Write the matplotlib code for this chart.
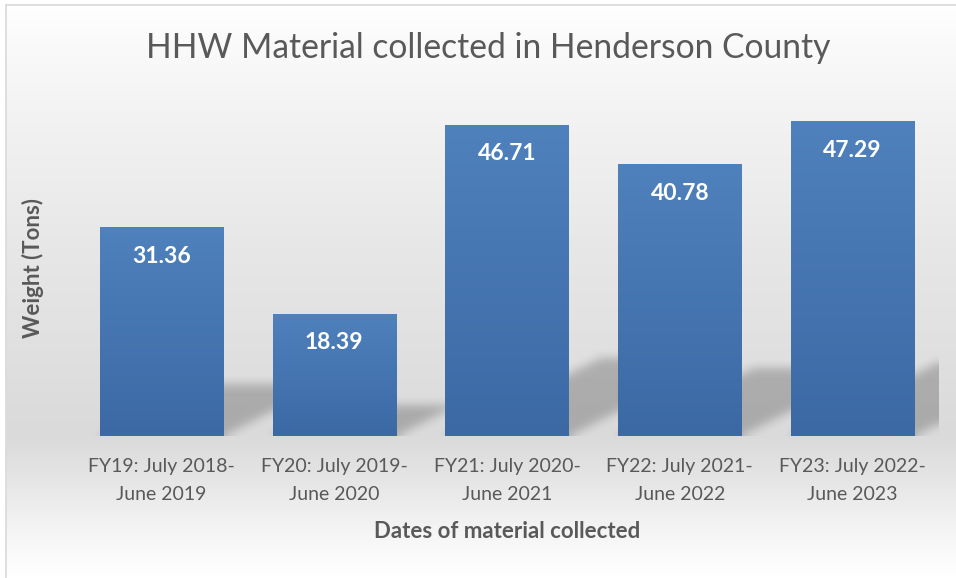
import matplotlib
matplotlib.use("Agg")
import matplotlib.pyplot as plt
from matplotlib.colors import LinearSegmentedColormap
from matplotlib.lines import Line2D
import numpy as np

# DATA ---------------------------------------------------------
categories = [
    "FY19: July 2018-\nJune 2019",
    "FY20: July 2019-\nJune 2020",
    "FY21: July 2020-\nJune 2021",
    "FY22: July 2021-\nJune 2022",
    "FY23: July 2022-\nJune 2023",
]
weights = [31.36, 18.39, 46.71, 40.78, 47.29]

title = "HHW Material collected in Henderson County"
xlabel = "Dates of material collected"
ylabel = "Weight (Tons)"

FONT = "Lato"
TXT = "#595959"

# FIGURE ---------------------------------------------------------
W, H = 956, 578
fig = plt.figure(figsize=(W / 100, H / 100), dpi=100)

# chart background gradient (white -> light grey -> white)
bg = fig.add_axes([0, 0, 1, 1], zorder=0)
stops = [(0.0, "#ffffff"), (0.17, "#f4f4f4"), (0.43, "#e7e7e7"),
         (0.755, "#dadada"), (0.83, "#e5e5e5"), (0.93, "#f6f6f6"), (1.0, "#ffffff")]
bg_cmap = LinearSegmentedColormap.from_list("bg", stops)
bg.imshow(np.linspace(0, 1, 400).reshape(-1, 1), cmap=bg_cmap, aspect="auto",
          extent=(0, 1, 0, 1), origin="upper")
bg.set_xlim(0, 1)
bg.set_ylim(0, 1)
bg.axis("off")
# outside border strip is white
bg.axvspan(0, 5 / W, color="white", zorder=2)
bg.axhspan(1 - 4 / H, 1, color="white", zorder=2)
fig.add_artist(Line2D([5.5 / W, 5.5 / W], [0, 1 - 4.5 / H], color="#d9d9d9", lw=1.2, zorder=3))
fig.add_artist(Line2D([5.5 / W, 1], [1 - 4.5 / H, 1 - 4.5 / H], color="#d9d9d9", lw=1.2, zorder=3))

# plot area
ax_l, ax_r, ax_t, ax_b = 75, 939, 103, 436
ax = fig.add_axes([ax_l / W, 1 - ax_b / H, (ax_r - ax_l) / W, (ax_b - ax_t) / H], zorder=1)
ax.set_facecolor("none")
ymax = 50
x = np.arange(len(weights))
bar_w = 0.712
ax.set_xlim(-0.5, len(weights) - 0.5)
ax.set_ylim(0, ymax)

# SHADOWS (blurred perspective shadow behind each bar) ------------
px_w, px_h = ax_r - ax_l, ax_b - ax_t
px_per_x = px_w / len(weights)
px_per_y = px_h / ymax
k, shear = 0.25, 2.0
xx, yy = np.meshgrid(np.arange(px_w) + 0.5, np.arange(px_h) + 0.5)  # yy = height above baseline
mask = np.zeros((px_h, px_w))
for xi, v in zip(x, weights):
    x0 = (xi - bar_w / 2 + 0.5) * px_per_x
    x1 = (xi + bar_w / 2 + 0.5) * px_per_x
    hs = k * v * px_per_y
    off = shear * yy
    m = (yy <= hs) & (xx >= x0 + off) & (xx <= x1 + off)
    mask = np.maximum(mask, m.astype(float))


def box_blur(a, r, axis):
    pad = [(0, 0), (0, 0)]
    pad[axis] = (r, r)
    b = np.pad(a, pad, mode="edge")
    c = np.cumsum(b, axis=axis)
    c = np.insert(c, 0, 0, axis=axis)
    n = a.shape[axis]
    hi = np.take(c, np.arange(2 * r + 1, 2 * r + 1 + n), axis=axis)
    lo = np.take(c, np.arange(0, n), axis=axis)
    return (hi - lo) / (2 * r + 1)


for _ in range(2):
    mask = box_blur(mask, 5, 0)
    mask = box_blur(mask, 5, 1)

shadow = np.zeros((px_h, px_w, 4))
shadow[..., 3] = mask * 0.22
ax.imshow(shadow, extent=(-0.5, len(weights) - 0.5, 0, ymax), origin="lower",
          aspect="auto", zorder=1, interpolation="nearest")

# BARS with vertical gradient --------------------------------------
bar_cmap = LinearSegmentedColormap.from_list("bar", ["#3c69a4", "#4f81bd"])
bars = ax.bar(x, weights, width=bar_w, color="none", edgecolor="none", zorder=2)
grad = np.linspace(0, 1, 256).reshape(-1, 1)
for b in bars:
    im = ax.imshow(grad, cmap=bar_cmap, aspect="auto", origin="lower", zorder=2,
                   extent=(b.get_x(), b.get_x() + b.get_width(), 0, b.get_height()))
    im.set_clip_path(b)
ax.set_xlim(-0.5, len(weights) - 0.5)
ax.set_ylim(0, ymax)

# value labels
for xi, v in zip(x, weights):
    ax.annotate(f"{v:.2f}", (xi, v), xytext=(0, -29), textcoords="offset pixels",
                ha="center", va="center", color="white", fontsize=16.5,
                fontweight="bold", family=FONT, zorder=3)

# AXES -------------------------------------------------------------
for s in ax.spines.values():
    s.set_visible(False)
ax.set_yticks([])
ax.set_xticks(x)
ax.set_xticklabels(categories, fontsize=14, color=TXT, family=FONT, linespacing=1.78)
ax.tick_params(axis="x", length=0, pad=16)
for lbl in ax.get_xticklabels():
    lbl.set_multialignment("center")

fig.text((ax_l + ax_r) / 2 / W, 1 - 532 / H, xlabel, ha="center", va="center",
         fontsize=16, fontweight="bold", color=TXT, family=FONT)
fig.text(33 / W, 1 - 268 / H, ylabel, ha="center", va="center", rotation=90,
         fontsize=16, fontweight="bold", color=TXT, family=FONT)
fig.text(488 / W, 1 - 48 / H, title, ha="center", va="center",
         fontsize=24.2, color=TXT, family=FONT)

fig.savefig("out.png", dpi=100)
